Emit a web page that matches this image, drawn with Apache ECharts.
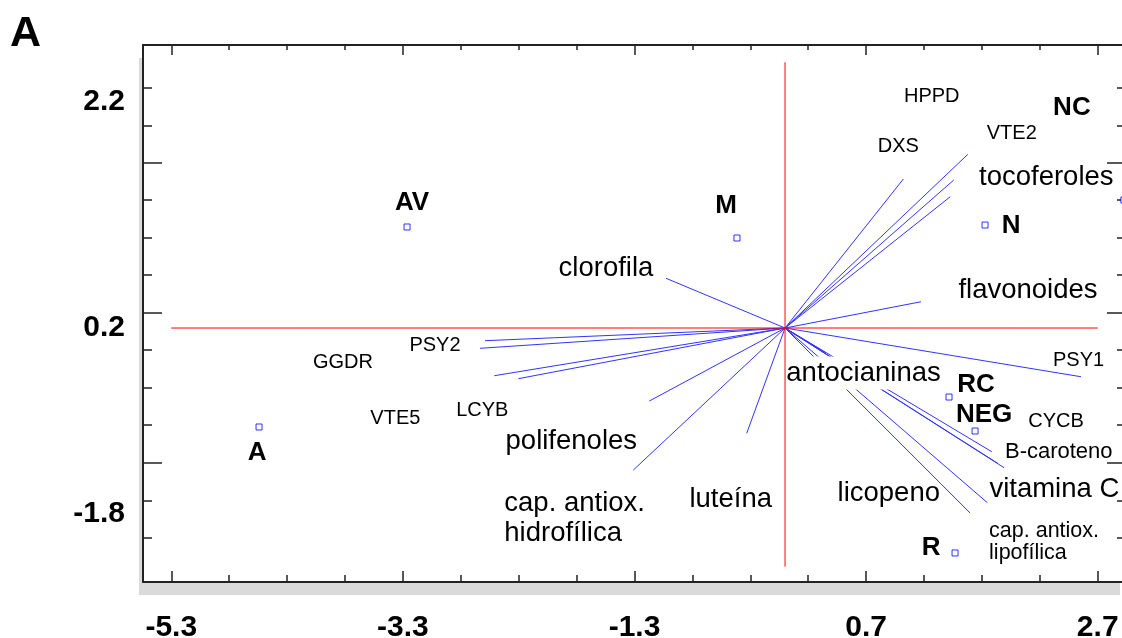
<!DOCTYPE html>
<html>
<head>
<meta charset="utf-8">
<script src="https://cdn.jsdelivr.net/npm/echarts@6/dist/echarts.min.js"></script>
<style>
html,body{margin:0;padding:0;background:#fff;}
#chart{width:1122px;height:638px;}
</style>
</head>
<body>
<div id="chart"></div>
<script>
// ---- data (biplot coordinates) ----
const varNames = ['HPPD','DXS','VTE2','tocoferoles','flavonoides','PSY1','antocianinas','licopeno','B-caroteno','CYCB','vitamina C','cap. antiox.\nlipofílica','luteína','cap. antiox.\nhidrofílica','polifenoles','LCYB','VTE5','GGDR','PSY2','clorofila'];
const varX = [1.578, 1.022, 1.457, 1.427, 1.174, 2.556, 0.354, 1.785, 1.837, 1.891, 1.747, 1.598, -0.331, -1.310, -1.172, -2.303, -2.510, -2.634, -2.591, -1.028];
const varY = [1.686, 1.447, 1.437, 1.275, 0.255, -0.473, -0.243, -1.201, -1.314, -1.356, -1.696, -1.796, -1.022, -1.379, -0.709, -0.492, -0.463, -0.197, -0.123, 0.483];

const ptNames = ['AV','M','A','N','RC','NEG','R','NC'];
const ptX = [-3.264, -0.415, -4.542, 1.727, 1.416, 1.641, 1.468, 2.926];
const ptY = [0.981, 0.874, -0.961, 1.000, -0.670, -1.000, -2.184, 1.243];

const xTickLabels = ['-5.3','-3.3','-1.3','0.7','2.7'];
const xMajor = [-5.3, -3.3, -1.3, 0.7, 2.7];
const xMinor = [-4.8, -4.3, -3.8, -2.8, -2.3, -1.8, -0.8, -0.3, 0.2, 1.2, 1.7, 2.2];
const yTickLabels = ['2.2','0.2','-1.8'];
const yLabelPos = [2.2, 0, -1.8];
const yMajor = [1.605, 0.149, -1.311];
const yMinor = [2.333, 1.968, 1.243, 0.879, 0.515, -0.214, -0.578, -0.942, -1.677, -2.039];

const hLineX = [-5.3, 2.7];   // red horizontal reference (y = 0)
const vLineY = [2.58, -2.317]; // red vertical reference (x = 0)

// ---- styles / layout ----
const xMin = -5.544, xMax = 2.927, yMin = -2.466, yMax = 2.748;
const FONT = '"Liberation Sans", Arial, sans-serif';
const vecLabelOffset = [[-36,-58],[-5,-33],[58,-47],[96,-19],[107,-11],[-2.5,-16],[37.5,20],[-103,42],[61,-11],[52,-46],[67,-13],[19,29],[-16,66],[-129,48],[-78,40],[-36,32],[-99,43],[-137,14],[-50,5],[-60,-10]];
const vecLabelSize = [20,20,20,27.5,27.5,20,27.5,27.5,22,20,27.5,21.5,27.5,27.5,27.5,20,20,20,20,27.5];
const ptLabelOffset = [[5,-24],[-11,-32],[-2,26],[26,1],[27,-12],[9,-16],[-24,-5],[-52,-92]];

const AX = '#222';
function xAxisDef(pos, ticks, len, line, labels) {
  return {
    type:'value', position:pos, min:xMin, max:xMax,
    axisLine:{show:line, onZero:false, lineStyle:{color:AX, width:2}},
    splitLine:{show:false},
    axisTick:{show:true, inside:true, length:len, customValues:ticks, lineStyle:{color:AX, width:1.5}},
    axisLabel: labels ? {
      show:true, customValues:xMajor, margin:31,
      formatter:v => xTickLabels[xMajor.findIndex(p => Math.abs(p - v) < 1e-6)],
      fontFamily:FONT, fontWeight:'bold', fontSize:30, lineHeight:30, color:'#000'
    } : {show:false}
  };
}
function yAxisDef(pos, ticks, len, line, labels) {
  return {
    type:'value', position:pos, min:yMin, max:yMax,
    axisLine:{show:line, onZero:false, lineStyle:{color:AX, width:2}},
    splitLine:{show:false},
    axisTick:{show:true, inside:true, length:len, customValues:ticks, lineStyle:{color:AX, width:1.5}},
    axisLabel: labels ? {
      show:true, customValues:yLabelPos, margin:18, padding:[6,0,0,0],
      formatter:v => yTickLabels[yLabelPos.findIndex(p => Math.abs(p - v) < 1e-6)],
      fontFamily:FONT, fontWeight:'bold', fontSize:30, color:'#000'
    } : {show:false}
  };
}

const chart = echarts.init(document.getElementById('chart'), null, {renderer:'canvas'});
chart.setOption({
  animation:false,
  backgroundColor:'#fff',
  title:{text:'A', left:5, top:8, textStyle:{fontFamily:FONT, fontWeight:'bold', fontSize:43, color:'#000'}},
  grid:{left:143, top:45, right:-2, bottom:56, show:true, backgroundColor:'#fff', borderWidth:0,
        outerBoundsMode:'none', containLabel:false,
        shadowColor:'#dadada', shadowBlur:0, shadowOffsetX:-4, shadowOffsetY:13},
  xAxis:[
    xAxisDef('bottom', xMajor, 11, true, true),
    xAxisDef('bottom', xMinor, 7, false, false),
    xAxisDef('top', xMajor, 10, true, false),
    xAxisDef('top', xMinor, 5, false, false)
  ],
  yAxis:[
    yAxisDef('left', yMajor, 19, true, true),
    yAxisDef('left', yMinor, 9, false, false),
    yAxisDef('right', yMajor, 17, true, false),
    yAxisDef('right', yMinor, 7, false, false)
  ],
  series:[
    {
      name:'vectors', type:'custom', coordinateSystem:'cartesian2d', silent:true, z:2,
      data: varX.map((x, i) => [x, varY[i]]),
      renderItem(params, api) {
        const o = api.coord([0, 0]);
        const e = api.coord([api.value(0), api.value(1)]);
        return {type:'line', shape:{x1:o[0], y1:o[1], x2:e[0], y2:e[1]},
                style:{stroke:'#3333ff', lineWidth:1}};
      }
    },
    {
      name:'variable labels', type:'custom', coordinateSystem:'cartesian2d', silent:true, z:10,
      data: varX.map((x, i) => [x, varY[i]]),
      renderItem(params, api) {
        const i = params.dataIndex;
        const e = api.coord([api.value(0), api.value(1)]);
        const name = varNames[i];
        const multi = name.indexOf('\n') >= 0;
        const size = vecLabelSize[i];
        const style = {
          text:name, fill:'#000', fontFamily:FONT, fontSize:size,
          align: multi ? 'left' : 'center', verticalAlign:'middle',
          lineHeight: multi ? (size > 25 ? 30 : 22) : Math.round(size * 1.15)
        };
        if (name === 'antocianinas') { style.backgroundColor = '#fff'; style.lineHeight = 33; }
        return {type:'text', x:e[0] + vecLabelOffset[i][0], y:e[1] + vecLabelOffset[i][1], style};
      }
    },
    {
      name:'h ref', type:'line', showSymbol:false, silent:true, z:11,
      lineStyle:{color:'#ff0000', width:1},
      data: hLineX.map(x => [x, 0])
    },
    {
      name:'v ref', type:'line', showSymbol:false, silent:true, z:11,
      lineStyle:{color:'#ff0000', width:1},
      data: vLineY.map(y => [0, y])
    },
    {
      name:'samples', type:'scatter', symbol:'rect', symbolSize:6, silent:true, z:12,
      itemStyle:{color:'#fff', borderColor:'#0000ff', borderWidth:1},
      data: ptNames.map((n, i) => ({name:n, value:[ptX[i], ptY[i]]}))
    },
    {
      name:'sample labels', type:'custom', coordinateSystem:'cartesian2d', silent:true, z:12,
      data: ptX.map((x, i) => [x, ptY[i]]),
      renderItem(params, api) {
        const i = params.dataIndex;
        const p = api.coord([api.value(0), api.value(1)]);
        return {type:'text', x:p[0] + ptLabelOffset[i][0], y:p[1] + ptLabelOffset[i][1],
                style:{text:ptNames[i], fill:'#000', fontFamily:FONT, fontWeight:'bold', fontSize:26,
                       align:'center', verticalAlign:'middle'}};
      }
    }
  ]
});
</script>
</body>
</html>
